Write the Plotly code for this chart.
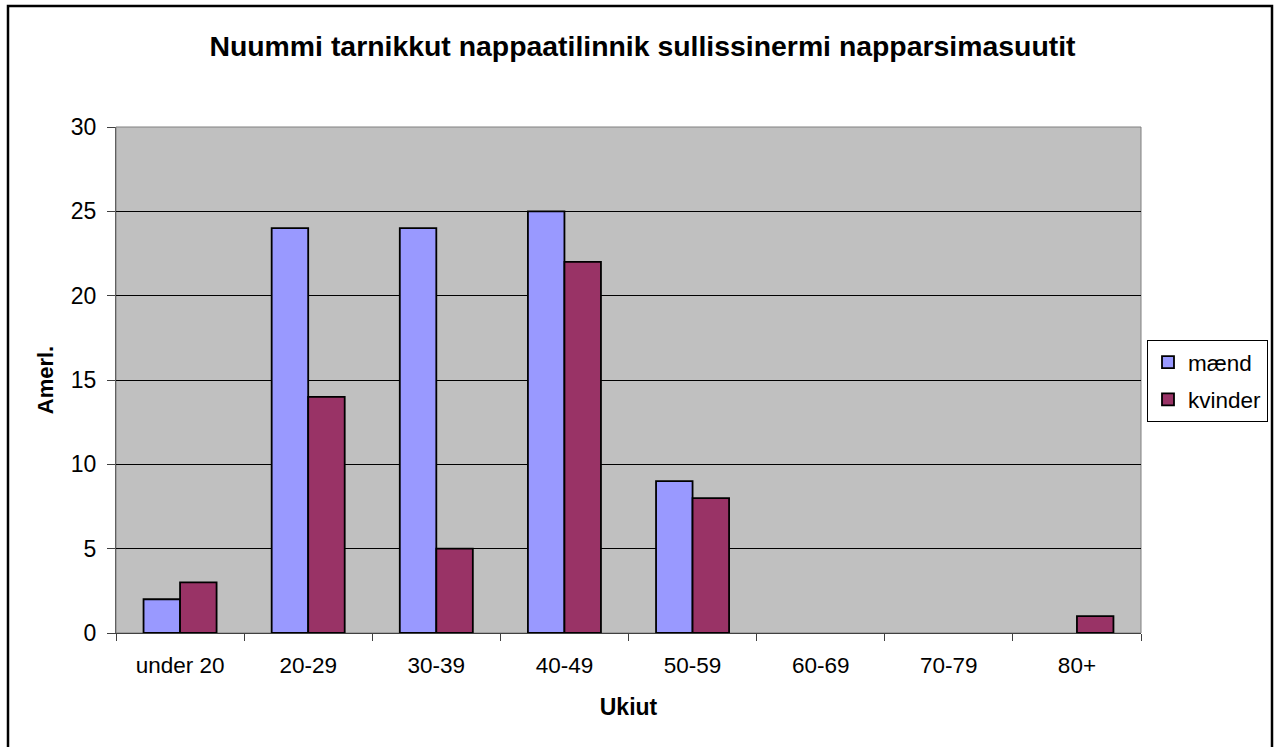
import plotly.graph_objects as go

categories = ["under 20", "20-29", "30-39", "40-49", "50-59", "60-69", "70-79", "80+"]
maend = [2, 24, 24, 25, 9, 0, 0, 0]
kvinder = [3, 14, 5, 22, 8, 0, 0, 1]
y_ticks = [0, 5, 10, 15, 20, 25, 30]

title_text = "Nuummi tarnikkut nappaatilinnik sullissinermi napparsimasuutit"
x_title = "Ukiut"
y_title = "Amerl."

W, H = 1276, 747
L, R, T, B = 116, 1141, 127, 633
FONT = "Liberation Sans, Arial, sans-serif"

def outline(vals):
    return [1.8 if v else 0 for v in vals]

fig = go.Figure()
fig.add_trace(go.Bar(x=categories, y=maend, name="mænd", legendgroup="m",
                     marker=dict(color="#9999FF", line=dict(color="black", width=outline(maend)))))
fig.add_trace(go.Bar(x=categories, y=kvinder, name="kvinder", legendgroup="k",
                     marker=dict(color="#993366", line=dict(color="black", width=outline(kvinder)))))

pw, ph = R - L, B - T
def px_x(x):
    return (x - L) / pw
def px_y(y):
    return (B - y) / ph

fig.update_layout(
    width=W, height=H,
    margin=dict(l=L, r=W - R, t=T, b=H - B, autoexpand=False),
    paper_bgcolor="white",
    plot_bgcolor="#C0C0C0",
    barmode="group",
    bargap=0.43,
    bargroupgap=0,
    font=dict(family=FONT, size=22, color="black"),
    title=dict(text="<b>" + title_text + "</b>", font=dict(family=FONT, size=28.4, color="black"),
               x=642.5 / W, xref="container", xanchor="center",
               y=1 - 46 / H, yref="container", yanchor="middle"),
    xaxis=dict(
        type="category", tickson="boundaries", ticks="outside", ticklen=7, tickcolor="#404040",
        showline=True, linecolor="#404040", linewidth=1, showgrid=False,
        tickfont=dict(family=FONT, size=22.5), ticklabelstandoff=12,
        title=dict(text="<b>" + x_title + "</b>", font=dict(family=FONT, size=23), standoff=21),
        automargin=False,
    ),
    yaxis=dict(
        range=[0, 30], tickvals=y_ticks, ticks="outside", ticklen=8, tickcolor="#404040",
        showline=True, linecolor="#606060", linewidth=1,
        showgrid=True, gridcolor="black", gridwidth=1, zeroline=False,
        tickfont=dict(family=FONT, size=23), ticklabelstandoff=6,
        title=dict(text="<b>" + y_title + "</b>", font=dict(family=FONT, size=22), standoff=11),
        automargin=False,
    ),
    legend=dict(
        x=px_x(1147), y=px_y(340), xanchor="left", yanchor="top",
        bordercolor="black", borderwidth=1, bgcolor="white",
        font=dict(family=FONT, size=22.5), itemwidth=30,
        traceorder="grouped", tracegroupgap=5,
    ),
    shapes=[
        dict(type="rect", xref="paper", yref="paper", x0=0, x1=1, y0=0, y1=1,
             line=dict(color="#808080", width=1), layer="below"),
        dict(type="rect", xref="paper", yref="paper",
             x0=px_x(8), x1=px_x(1272), y0=px_y(760), y1=px_y(6),
             line=dict(color="black", width=2.5)),
    ],
)

fig.write_html("out.html", config={"displayModeBar": False},
               post_script="document.body.style.margin='0';document.body.style.overflow='hidden';")
